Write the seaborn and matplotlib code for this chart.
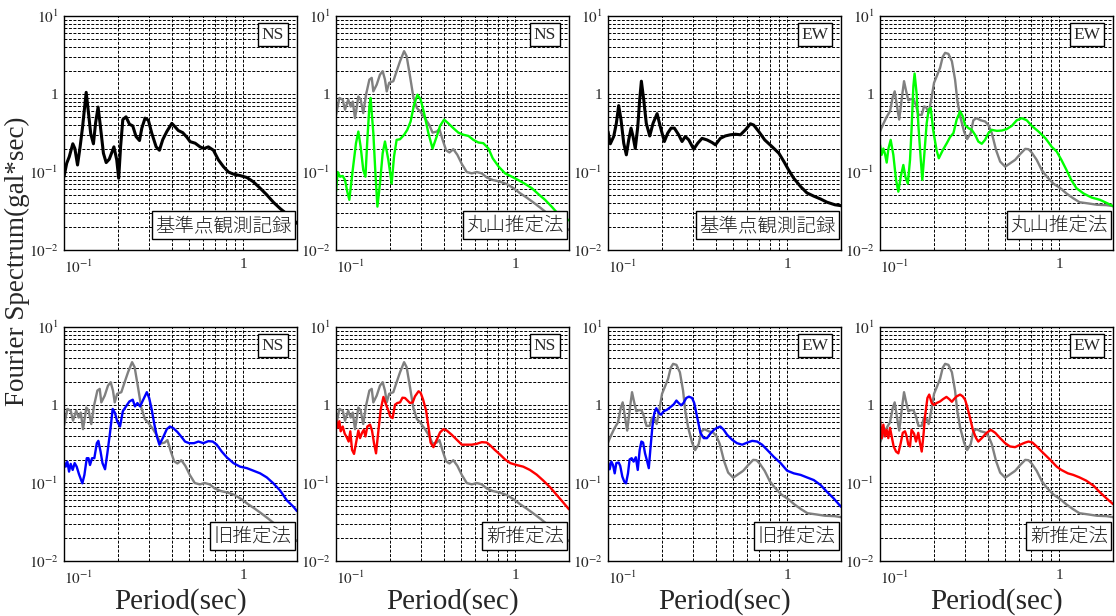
import numpy as np
import pandas as pd
import matplotlib
matplotlib.use("Agg")
import matplotlib.pyplot as plt
import seaborn as sns
from matplotlib.ticker import FixedLocator, NullFormatter, FixedFormatter, LogLocator

# ---------------- data (period [s], Fourier amplitude [gal*sec]) ----------------
black_ns_T = [0.100, 0.1035, 0.107, 0.112, 0.115, 0.119, 0.123, 0.127, 0.133, 0.137, 0.141, 0.146, 0.150, 0.155, 0.159,
              0.166, 0.172, 0.179, 0.190, 0.197, 0.202, 0.207, 0.213, 0.222, 0.232, 0.242, 0.2525, 0.264, 0.272, 0.2835,
              0.296, 0.309, 0.327, 0.341, 0.356, 0.375, 0.400, 0.417, 0.435, 0.460, 0.485, 0.506, 0.540, 0.575, 0.605,
              0.640, 0.683, 0.728, 0.777, 0.828, 0.883, 0.962, 1.05, 1.14, 1.245, 1.356, 1.476, 1.61, 1.754, 2.0]
black_ns_v = [0.087, 0.129, 0.157, 0.23, 0.20, 0.123, 0.21, 0.38, 1.05, 0.57, 0.31, 0.23, 0.42, 0.68, 0.42,
              0.174, 0.132, 0.146, 0.21, 0.143, 0.083, 0.21, 0.47, 0.51, 0.41, 0.39, 0.285, 0.253, 0.365, 0.49,
              0.46, 0.315, 0.21, 0.19, 0.26, 0.33, 0.42, 0.38, 0.34, 0.32, 0.28, 0.245, 0.234, 0.21, 0.20,
              0.21, 0.19, 0.143, 0.117, 0.10, 0.094, 0.09, 0.085, 0.075, 0.062, 0.051, 0.041, 0.034, 0.029, 0.022]

black_ew_T = [0.100, 0.103, 0.1076, 0.1113, 0.1147, 0.1182, 0.1224, 0.1266, 0.1305, 0.1345, 0.138, 0.142, 0.1466,
              0.1503, 0.1536, 0.1583, 0.1636, 0.171, 0.1784, 0.188, 0.196, 0.2064, 0.2155, 0.225, 0.2348, 0.248,
              0.259, 0.270, 0.2826, 0.301, 0.317, 0.335, 0.357, 0.381, 0.398, 0.424, 0.452, 0.482, 0.515, 0.549,
              0.585, 0.624, 0.651, 0.695, 0.75, 0.8265, 0.90, 0.96, 1.02, 1.09, 1.19, 1.29, 1.41, 1.54, 1.67, 1.85, 2.0]
black_ew_v = [0.33, 0.23, 0.285, 0.42, 0.71, 0.47, 0.234, 0.166, 0.258, 0.365, 0.285, 0.20, 0.38,
              0.845, 1.46, 0.845, 0.42, 0.29, 0.42, 0.56, 0.38, 0.246, 0.315, 0.365, 0.365, 0.30,
              0.246, 0.285, 0.258, 0.196, 0.234, 0.27, 0.258, 0.239, 0.223, 0.27, 0.29, 0.30, 0.305, 0.30,
              0.347, 0.415, 0.40, 0.33, 0.258, 0.21, 0.174, 0.136, 0.106, 0.083, 0.065, 0.054, 0.049, 0.045, 0.041, 0.038, 0.037]

gray_ns_T = [0.100, 0.1044, 0.109, 0.1123, 0.117, 0.1208, 0.124, 0.1277, 0.1333, 0.1373,
             0.142, 0.1471, 0.1536, 0.1583, 0.1616, 0.1688, 0.176, 0.1822, 0.1877, 0.192,
             0.198, 0.209, 0.218, 0.2278, 0.24, 0.248, 0.259, 0.270, 0.283, 0.2947,
             0.314, 0.332, 0.346, 0.365, 0.378, 0.394, 0.412, 0.43, 0.452, 0.476,
             0.504, 0.537, 0.573, 0.611, 0.652, 0.695, 0.75, 0.8265, 0.90, 0.98,
             1.06, 1.16, 1.26, 1.38, 1.50, 1.64, 1.82, 2.0]
gray_ns_v = [0.54, 0.89, 0.845, 0.63, 0.845, 0.69, 0.80, 0.49, 0.93, 0.845,
             0.57, 0.98, 1.53, 1.61, 1.08, 1.32, 1.77, 1.96, 1.53, 1.08,
             1.39, 1.46, 1.96, 2.63, 3.54, 3.05, 1.69, 0.93, 0.66, 0.60,
             0.49, 0.40, 0.32, 0.33, 0.355, 0.258, 0.19, 0.178, 0.196, 0.166,
             0.127, 0.10, 0.096, 0.10, 0.096, 0.085, 0.079, 0.075, 0.07, 0.062,
             0.054, 0.047, 0.041, 0.035, 0.030, 0.025, 0.021, 0.018]

green_ns_T = [0.100, 0.1022, 0.1053, 0.109, 0.1123, 0.1156, 0.1187, 0.124, 0.1293, 0.1333,
              0.1373, 0.142, 0.146, 0.1496, 0.1536, 0.156, 0.1616, 0.166, 0.1703, 0.176,
              0.1822, 0.1877, 0.196, 0.2045, 0.2109, 0.218, 0.2278, 0.24, 0.25, 0.261,
              0.2728, 0.285, 0.297, 0.3103, 0.328, 0.346, 0.365, 0.381, 0.4015, 0.424,
              0.452, 0.482, 0.515, 0.549, 0.585, 0.624, 0.665, 0.71, 0.75, 0.81,
              0.88, 0.96, 1.04, 1.13, 1.24, 1.35, 1.47, 1.60, 1.74, 2.0]
green_ns_v = [0.056, 0.10, 0.087, 0.089, 0.079, 0.056, 0.044, 0.106, 0.234, 0.33,
              0.21, 0.106, 0.087, 0.258, 0.69, 0.89, 0.315, 0.096, 0.036, 0.071,
              0.174, 0.246, 0.143, 0.071, 0.158, 0.258, 0.263, 0.30, 0.347, 0.445,
              0.73, 0.98, 0.845, 0.57, 0.315, 0.20, 0.285, 0.39, 0.47, 0.42,
              0.365, 0.32, 0.30, 0.29, 0.258, 0.239, 0.234, 0.20, 0.15, 0.117,
              0.096, 0.087, 0.079, 0.071, 0.062, 0.052, 0.044, 0.036, 0.029, 0.024]

gray_ew_T = [0.100, 0.1044, 0.109, 0.1137, 0.1177, 0.1208, 0.1245, 0.128, 0.132, 0.1362,
             0.1397, 0.1439, 0.1485, 0.1536, 0.159, 0.164, 0.171, 0.176, 0.1807, 0.187,
             0.1935, 0.2003, 0.209, 0.2164, 0.224, 0.231, 0.241, 0.252, 0.2625, 0.270,
             0.28, 0.2947, 0.3065, 0.321, 0.332, 0.346, 0.365, 0.386, 0.403, 0.421,
             0.445, 0.4687, 0.50, 0.532, 0.568, 0.6065, 0.647, 0.675, 0.704, 0.75,
             0.80, 0.855, 0.93, 1.016, 1.10, 1.20, 1.30, 1.46, 1.63, 1.84, 2.0]
gray_ew_v = [0.33, 0.415, 0.51, 0.60, 0.91, 1.08, 0.69, 0.47, 0.845, 1.46,
             1.11, 0.83, 0.86, 0.86, 0.71, 0.54, 0.54, 0.69, 0.68, 0.57,
             0.86, 1.39, 1.77, 2.16, 3.0, 3.37, 3.27, 2.63, 1.53, 0.845,
             0.52, 0.33, 0.264, 0.315, 0.46, 0.49, 0.46, 0.445, 0.40, 0.315,
             0.19, 0.136, 0.117, 0.129, 0.143, 0.17, 0.198, 0.196, 0.177, 0.143,
             0.106, 0.087, 0.071, 0.062, 0.053, 0.046, 0.041, 0.0395, 0.038, 0.0376, 0.0365]

green_ew_T = [0.100, 0.1022, 0.1044, 0.1067, 0.109, 0.1113, 0.1147, 0.1187, 0.1229, 0.1266,
              0.1305, 0.135, 0.1385, 0.143, 0.1471, 0.150, 0.1536, 0.156, 0.160, 0.164,
              0.169, 0.1723, 0.177, 0.1822, 0.187, 0.192, 0.198, 0.207, 0.213, 0.224,
              0.236, 0.2461, 0.257, 0.268, 0.28, 0.2897, 0.2985, 0.3116, 0.3252, 0.3395,
              0.354, 0.37, 0.386, 0.403, 0.421, 0.449, 0.478, 0.51, 0.544, 0.58,
              0.619, 0.66, 0.704, 0.768, 0.84, 0.91, 0.97, 1.03, 1.10, 1.17,
              1.25, 1.37, 1.52, 1.69, 1.87, 2.0]
green_ew_v = [0.223, 0.166, 0.20, 0.17, 0.132, 0.196, 0.258, 0.166, 0.079, 0.056,
              0.087, 0.123, 0.087, 0.071, 0.143, 0.347, 1.26, 1.83, 1.03, 0.38,
              0.143, 0.079, 0.174, 0.42, 0.63, 0.66, 0.347, 0.19, 0.15, 0.19,
              0.234, 0.28, 0.315, 0.47, 0.60, 0.52, 0.40, 0.365, 0.347, 0.30,
              0.246, 0.23, 0.258, 0.315, 0.347, 0.337, 0.34, 0.355, 0.39, 0.46,
              0.49, 0.46, 0.39, 0.33, 0.27, 0.21, 0.183, 0.143, 0.106, 0.079,
              0.062, 0.053, 0.047, 0.044, 0.0395, 0.0365]

blue_ns_T = [0.100, 0.1022, 0.1044, 0.1067, 0.109, 0.1118, 0.1147, 0.1177, 0.1212, 0.1266,
             0.130, 0.134, 0.137, 0.1397, 0.1434, 0.1477, 0.1525, 0.1555, 0.160, 0.164,
             0.1695, 0.1746, 0.1807, 0.187, 0.1926, 0.198, 0.2055, 0.213, 0.222, 0.2318,
             0.242, 0.249, 0.257, 0.266, 0.277, 0.290, 0.299, 0.309, 0.3184, 0.33,
             0.341, 0.356, 0.375, 0.39, 0.408, 0.43, 0.454, 0.474, 0.50, 0.532,
             0.563, 0.60, 0.64, 0.677, 0.713, 0.76, 0.81, 0.883, 0.962, 1.05,
             1.14, 1.245, 1.356, 1.476, 1.61, 1.754, 1.91, 2.0]
blue_ns_v = [0.188, 0.162, 0.188, 0.14, 0.176, 0.147, 0.18, 0.162, 0.13, 0.099,
             0.127, 0.208, 0.208, 0.17, 0.208, 0.208, 0.324, 0.347, 0.253, 0.18,
             0.15, 0.24, 0.44, 0.89, 0.79, 0.62, 0.53, 0.83, 0.96, 1.11,
             1.17, 0.96, 1.06, 0.96, 1.17, 1.46, 1.23, 0.87, 0.59, 0.395,
             0.31, 0.376, 0.49, 0.53, 0.505, 0.45, 0.387, 0.34, 0.324, 0.324,
             0.34, 0.324, 0.344, 0.34, 0.31, 0.253, 0.214, 0.18, 0.162, 0.155,
             0.144, 0.133, 0.118, 0.099, 0.08, 0.06, 0.0496, 0.0436]

red_ns_T = [0.100, 0.1022, 0.1044, 0.1062, 0.109, 0.1118, 0.1147, 0.1177, 0.1202, 0.1229,
            0.1261, 0.1293, 0.1333, 0.1362, 0.1397, 0.143, 0.146, 0.1496, 0.1549, 0.1589,
            0.163, 0.1673, 0.172, 0.1776, 0.184, 0.1895, 0.196, 0.2006, 0.207, 0.2136,
            0.220, 0.2278, 0.235, 0.2428, 0.25, 0.259, 0.268, 0.276, 0.289, 0.297,
            0.3065, 0.3184, 0.328, 0.3375, 0.35, 0.365, 0.381, 0.398, 0.416, 0.443,
            0.473, 0.504, 0.537, 0.573, 0.611, 0.652, 0.695, 0.725, 0.77, 0.8265,
            0.88, 0.94, 1.02, 1.11, 1.21, 1.32, 1.44, 1.57, 1.71, 1.86, 2.0]
red_ns_v = [0.65, 0.51, 0.62, 0.46, 0.53, 0.43, 0.387, 0.34, 0.46, 0.266,
            0.236, 0.324, 0.47, 0.376, 0.44, 0.48, 0.395, 0.53, 0.56, 0.47,
            0.324, 0.24, 0.44, 0.87, 1.27, 1.04, 0.85, 0.715, 0.68, 1.01,
            1.06, 1.08, 1.24, 1.23, 1.15, 1.06, 1.08, 1.29, 1.5, 1.43,
            1.17, 0.85, 0.53, 0.33, 0.288, 0.358, 0.445, 0.49, 0.47, 0.415,
            0.358, 0.31, 0.31, 0.31, 0.318, 0.334, 0.33, 0.305, 0.266, 0.23,
            0.20, 0.18, 0.17, 0.162, 0.147, 0.128, 0.107, 0.088, 0.07, 0.056, 0.046]

blue_ew_T = [0.100, 0.1022, 0.1044, 0.1067, 0.109, 0.1113, 0.1147, 0.117, 0.1202, 0.1233,
             0.1261, 0.1293, 0.132, 0.1356, 0.139, 0.143, 0.1466, 0.1503, 0.1536, 0.157,
             0.161, 0.165, 0.169, 0.1723, 0.177, 0.1814, 0.186, 0.192, 0.198, 0.2045,
             0.2136, 0.223, 0.233, 0.241, 0.248, 0.256, 0.264, 0.2735, 0.283, 0.2947,
             0.303, 0.314, 0.328, 0.3425, 0.357, 0.373, 0.39, 0.4065, 0.424, 0.443,
             0.4625, 0.4935, 0.525, 0.5615, 0.5995, 0.6386, 0.68, 0.725, 0.774, 0.84,
             0.92, 1.0, 1.09, 1.19, 1.29, 1.41, 1.54, 1.67, 1.82, 2.0]
blue_ew_v = [0.188, 0.15, 0.188, 0.17, 0.133, 0.18, 0.183, 0.166, 0.121, 0.104,
             0.099, 0.133, 0.20, 0.208, 0.188, 0.214, 0.147, 0.266, 0.34, 0.33,
             0.24, 0.194, 0.155, 0.266, 0.53, 0.79, 0.91, 0.79, 0.75, 0.83,
             0.87, 0.94, 1.02, 1.14, 1.06, 0.99, 1.06, 1.23, 1.28, 1.23,
             1.06, 0.715, 0.44, 0.376, 0.376, 0.43, 0.48, 0.51, 0.53, 0.48,
             0.415, 0.358, 0.324, 0.31, 0.33, 0.347, 0.34, 0.31, 0.266, 0.218,
             0.18, 0.144, 0.133, 0.127, 0.118, 0.109, 0.094, 0.077, 0.0635, 0.0496]

red_ew_T = [0.100, 0.1022, 0.1044, 0.1067, 0.109, 0.1113, 0.1137, 0.1162, 0.1192, 0.1229,
            0.1266, 0.1305, 0.134, 0.1379, 0.141, 0.1439, 0.1471, 0.150, 0.1549, 0.1589,
            0.1636, 0.1673, 0.171, 0.1746, 0.1784, 0.184, 0.1883, 0.1945, 0.2003, 0.207,
            0.2164, 0.225, 0.235, 0.2435, 0.252, 0.259, 0.268, 0.28, 0.2897, 0.2985,
            0.3065, 0.3184, 0.33, 0.344, 0.354, 0.37, 0.394, 0.416, 0.44, 0.4687,
            0.50, 0.532, 0.568, 0.6065, 0.647, 0.675, 0.71, 0.75, 0.819, 0.893,
            0.97, 1.03, 1.12, 1.20, 1.30, 1.42, 1.56, 1.69, 1.84, 2.0]
red_ew_v = [0.65, 0.376, 0.56, 0.395, 0.48, 0.376, 0.51, 0.395, 0.294, 0.253,
            0.24, 0.324, 0.44, 0.46, 0.395, 0.31, 0.294, 0.48, 0.43, 0.34,
            0.44, 0.324, 0.253, 0.395, 0.715, 1.23, 1.36, 1.06, 1.0, 1.06,
            1.11, 1.19, 1.27, 1.19, 1.1, 1.19, 1.29, 1.36, 1.29, 1.17,
            0.96, 0.68, 0.48, 0.376, 0.34, 0.376, 0.44, 0.48, 0.44, 0.376,
            0.324, 0.294, 0.288, 0.31, 0.33, 0.34, 0.33, 0.294, 0.24, 0.198,
            0.162, 0.147, 0.133, 0.127, 0.118, 0.107, 0.092, 0.076, 0.0635, 0.0537]

components = ["NS", "NS", "EW", "EW", "NS", "NS", "EW", "EW"]
method_labels = ["基準点観測記録", "丸山推定法", "基準点観測記録", "丸山推定法",
                 "旧推定法", "新推定法", "旧推定法", "新推定法"]
y_tick_vals = [0.01, 0.1, 1, 10]
y_tick_labels = [r"$10^{-2}$", r"$10^{-1}$", "1", r"$10^{1}$"]
x_tick_vals = [0.1, 1]
x_tick_labels = [r"$10^{-1}$", "1"]
x_minor_vals = [0.2, 0.3, 0.4, 0.5, 0.6, 0.7, 0.8, 0.9, 2.0]
x_label = "Period(sec)"
y_label = "Fourier Spectrum(gal*sec)"

# ---------------- style ----------------
sns.set_style("white")
plt.rcParams["font.family"] = ["Liberation Serif", "DejaVu Serif"]
plt.rcParams["mathtext.fontset"] = "stix"
CJK = ["Noto Sans CJK JP", "DejaVu Sans"]

GRAY = "#808080"
panels = [
    # (row, col, main (T, v), color, reference gray (T, v) or None)
    (0, 0, (black_ns_T, black_ns_v), "black", None),
    (0, 1, (green_ns_T, green_ns_v), "#00ff00", (gray_ns_T, gray_ns_v)),
    (0, 2, (black_ew_T, black_ew_v), "black", None),
    (0, 3, (green_ew_T, green_ew_v), "#00ff00", (gray_ew_T, gray_ew_v)),
    (1, 0, (blue_ns_T, blue_ns_v), "#0000ff", (gray_ns_T, gray_ns_v)),
    (1, 1, (red_ns_T, red_ns_v), "#ff0000", (gray_ns_T, gray_ns_v)),
    (1, 2, (blue_ew_T, blue_ew_v), "#0000ff", (gray_ew_T, gray_ew_v)),
    (1, 3, (red_ew_T, red_ew_v), "#ff0000", (gray_ew_T, gray_ew_v)),
]

FW, FH = 1116, 616
fig = plt.figure(figsize=(FW / 100, FH / 100), dpi=100)
col_left = [64, 336, 608, 880]
row_top = [16, 327]
AW, AH = 233, 234

for i, (r, c, main, color, ref) in enumerate(panels):
    x0, y0 = col_left[c], row_top[r]
    ax = fig.add_axes([x0 / FW, 1 - (y0 + AH) / FH, AW / FW, AH / FH])
    ax.set_xscale("log")
    ax.set_yscale("log")
    if ref is not None:
        dref = pd.DataFrame({"T": ref[0], "A": ref[1]})
        sns.lineplot(data=dref, x="T", y="A", ax=ax, color=GRAY, lw=1.7,
                     estimator=None, sort=False, zorder=3)
    dm = pd.DataFrame({"T": main[0], "A": main[1]})
    sns.lineplot(data=dm, x="T", y="A", ax=ax, color=color,
                 lw=2.2 if color == "black" else 1.7,
                 estimator=None, sort=False, zorder=4)
    ax.set_xlim(0.1, 2.0)
    ax.set_ylim(0.01, 10)
    ax.xaxis.set_major_locator(FixedLocator(x_tick_vals))
    ax.xaxis.set_major_formatter(FixedFormatter(x_tick_labels))
    ax.xaxis.set_minor_locator(FixedLocator(x_minor_vals))
    ax.xaxis.set_minor_formatter(NullFormatter())
    ax.yaxis.set_major_locator(FixedLocator(y_tick_vals))
    ax.yaxis.set_major_formatter(FixedFormatter(y_tick_labels))
    ax.yaxis.set_minor_locator(LogLocator(base=10, subs=np.arange(2, 10)))
    ax.yaxis.set_minor_formatter(NullFormatter())
    ax.grid(True, which="both", color="black", lw=0.7, ls=(0, (3, 1.6)), zorder=1)
    ax.set_axisbelow(True)
    ax.tick_params(which="both", length=0, labelsize=11, pad=6)
    ax.tick_params(axis="y", pad=4)
    lbls = ax.get_xticklabels()
    lbls[0].set_horizontalalignment("left")
    for sp in ax.spines.values():
        sp.set_color("black")
        sp.set_linewidth(1.0)
        sp.set_zorder(6)
    ax.set_ylabel("")
    if r == 1:
        ax.set_xlabel(x_label, fontsize=21, labelpad=1)
    else:
        ax.set_xlabel("")
    ax.text(0.945, 0.955, components[i], transform=ax.transAxes, ha="right", va="top",
            fontsize=12.5, zorder=10,
            bbox=dict(boxstyle="square,pad=0.2", fc="white", ec="black", lw=1.0))
    ax.text(0.978, 0.06, method_labels[i], transform=ax.transAxes, ha="right", va="bottom",
            fontsize=14, family=CJK, fontweight="light", color="#222222", zorder=10,
            bbox=dict(boxstyle="square,pad=0.18", fc="white", ec="black", lw=1.0))

fig.text(17 / FW, 0.576, y_label, rotation=90, ha="center", va="center", fontsize=19.5)

fig.savefig("out.png", dpi=100)
